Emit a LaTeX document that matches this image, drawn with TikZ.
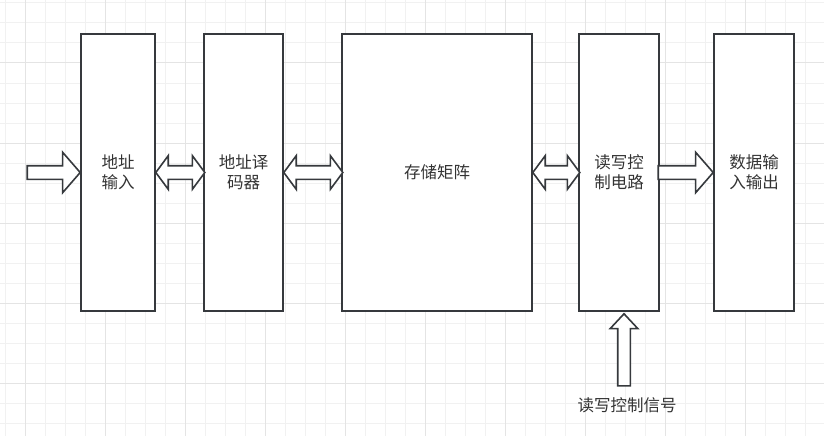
\documentclass[tikz,border=0pt]{standalone}
\usepackage{fontspec}
\newfontfamily\cjk{Noto Sans CJK SC}
\usetikzlibrary{shapes.arrows,positioning}
\definecolor{boxline}{HTML}{36393D}
\definecolor{boxtext}{HTML}{333333}
\definecolor{gridminor}{HTML}{F1F1F1}
\definecolor{gridmajor}{HTML}{E4E4E4}

\tikzset{
  unitbox/.style={rectangle, draw=boxline, line width=1.6pt, fill=white,
      minimum height=277pt, align=center, text=boxtext, inner sep=0pt,
      font=\cjk\fontsize{16.5}{20}\selectfont},
  flowarrow/.style={single arrow, draw=boxline, fill=white, line width=1.6pt,
      inner xsep=0pt, inner ysep=6pt, outer sep=0pt,
      single arrow head extend=13.5pt, single arrow tip angle=98},
  swaparrow/.style={double arrow, draw=boxline, fill=white, line width=1.6pt,
      inner xsep=0pt, inner ysep=6pt, outer sep=0pt,
      double arrow head extend=10pt, double arrow tip angle=107},
}

\begin{document}
\begin{tikzpicture}[x=1pt,y=-1pt]
\useasboundingbox[fill=white] (0,0) rectangle (824,436);

% background grid
\foreach \gx in {5,25,...,825} \draw[gridminor, line width=1pt] (\gx,0) -- (\gx,436);
\foreach \gy in {3,23,...,435} \draw[gridminor, line width=1pt] (0,\gy) -- (824,\gy);
\foreach \gx in {25,105,...,825} \draw[gridmajor, line width=1pt] (\gx,0) -- (\gx,436);
\foreach \gy in {63,143,...,435} \draw[gridmajor, line width=1pt] (0,\gy) -- (824,\gy);

% the five units
\node[unitbox, minimum width=74pt] (addrin) at (118,172.5) {地址\\输入};
\node[unitbox, minimum width=79pt] (decoder) at (243.5,172.5) {地址译\\码器};
\node[unitbox, minimum width=190pt] (matrix) at (437,172.5) {存储矩阵};
\node[unitbox, minimum width=80pt] (rwctrl) at (619,172.5) {读写控\\制电路};
\node[unitbox, minimum width=80pt] (dataio) at (754,172.5) {数据输\\入输出};

% block arrows
\node[flowarrow, anchor=tip, minimum height=53pt] (inarrow) at (addrin.west) {};
\node[swaparrow, anchor=west, minimum height=49pt] (busa) at (addrin.east) {};
\node[swaparrow, anchor=west, minimum height=59pt] (busb) at (decoder.east) {};
\node[swaparrow, anchor=west, minimum height=47pt] (busc) at (matrix.east) {};
\node[flowarrow, anchor=tip, minimum height=55pt] (outarrow) at (dataio.west) {};

% control signal
\node[text=boxtext, font=\cjk\fontsize{16.5}{20}\selectfont] (rwsig) at (627,405) {读写控制信号};
\node[flowarrow, shape border rotate=90, anchor=tip, minimum height=72pt,
      inner xsep=5.5pt, inner ysep=0pt, single arrow head extend=7.5pt,
      single arrow tip angle=86]
  (sigarrow) at ([xshift=5pt, yshift=-2pt]rwctrl.south) {};
\end{tikzpicture}
\end{document}
